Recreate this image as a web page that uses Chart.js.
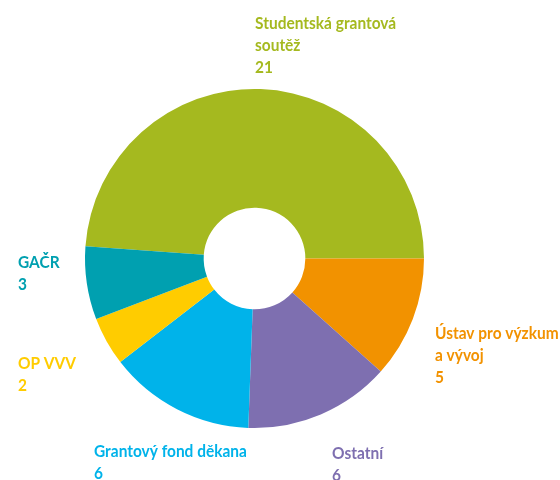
<!DOCTYPE html>
<html lang="cs">
<head>
    <meta charset="UTF-8">
    <title>Zdroje financování</title>
    <script src="https://cdn.jsdelivr.net/npm/chart.js"></script>
    <style>
        body {
            margin: 0;
            background: white;
        }
        .chart-box {
            width: 560px;
            height: 480px;
        }
    </style>
</head>
<body>
    <div class="chart-box">
        <canvas id="fundChart" width="560" height="480"></canvas>
    </div>

    <script>
        // Data
        const categories = ['Studentská grantová soutěž', 'Ústav pro výzkum a vývoj', 'Ostatní',
                            'Grantový fond děkana', 'OP VVV', 'GAČR'];
        const labelLines = [['Studentská grantová', 'soutěž'], ['Ústav pro výzkum', 'a vývoj'], ['Ostatní'],
                            ['Grantový fond děkana'], ['OP VVV'], ['GAČR']];
        const values = [21, 5, 6, 6, 2, 3];
        const colors = ['#a5b91f', '#f29200', '#7e6fb0', '#00b3ea', '#ffcc00', '#00a0b0'];

        const total = values.reduce((a, b) => a + b, 0);

        // where each label block starts (left x, first baseline y)
        const labelSpots = [[255, 29], [435, 339], [332, 459], [94, 457], [18, 369], [18, 268]];
        const lineHeight = 22;
        const squeeze = 0.91; // the original uses a condensed face

        const outsideLabels = {
            id: 'outsideLabels',
            afterDraw(chart) {
                const ctx = chart.ctx;
                ctx.font = 'bold 17px Lato, "Noto Sans", sans-serif';
                ctx.textAlign = 'left';
                ctx.textBaseline = 'alphabetic';
                labelLines.forEach((lines, i) => {
                    const [x, y] = labelSpots[i];
                    const all = lines.concat([String(values[i])]);
                    ctx.save();
                    ctx.translate(x, y);
                    ctx.scale(squeeze, 1);
                    ctx.fillStyle = colors[i];
                    all.forEach((txt, j) => {
                        ctx.fillText(txt, 0, j * lineHeight);
                    });
                    ctx.restore();
                });
            }
        };

        new Chart(document.getElementById('fundChart'), {
            type: 'doughnut',
            data: {
                labels: categories,
                datasets: [{
                    data: values,
                    backgroundColor: colors,
                    borderWidth: 0
                }]
            },
            options: {
                responsive: false,
                animation: false,
                cutout: '30%',
                // first slice ends exactly at 3 o'clock
                rotation: 90 - values[0] / total * 360,
                layout: {
                    padding: { left: 85, right: 136, top: 89, bottom: 52 }
                },
                plugins: {
                    legend: { display: false },
                    tooltip: { enabled: false }
                }
            },
            plugins: [outsideLabels]
        });
    </script>
</body>
</html>
